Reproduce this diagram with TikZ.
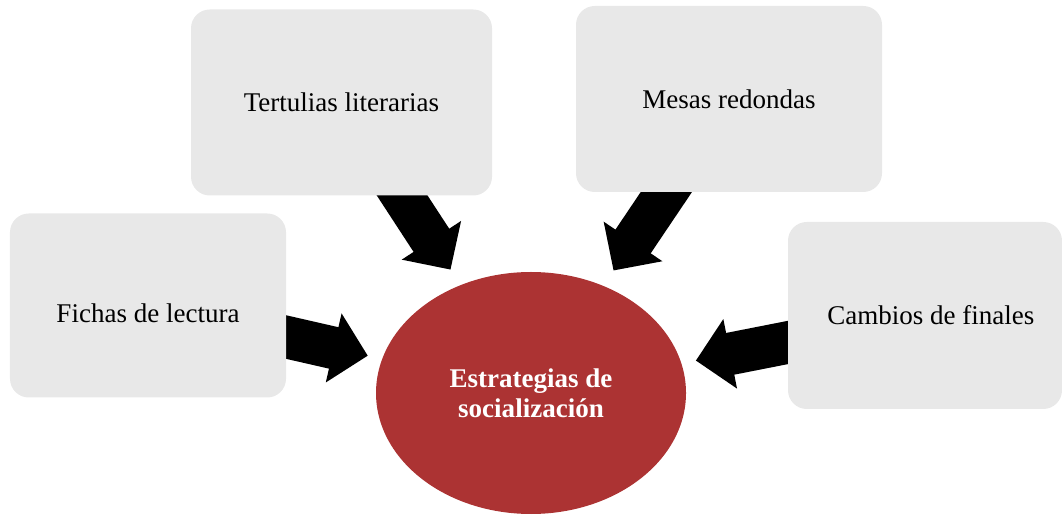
\documentclass[tikz,border=0pt]{standalone}
\usepackage{fontspec}
\setmainfont{Liberation Serif}
\usetikzlibrary{shapes.geometric,arrows.meta,backgrounds}
\definecolor{cajagris}{HTML}{E8E8E8}
\definecolor{rojo}{HTML}{AC3333}
\begin{document}
\begin{tikzpicture}[font=\fontsize{12.3}{13.6}\selectfont,
  caja/.style={fill=cajagris, rounded corners=0.3cm, inner sep=0pt},
  flecha/.style={line width=0.68cm, -{Triangle[width=1.1cm,length=0.56cm]}}]
  \useasboundingbox (0,0) rectangle (16.992,8.224);

  \node[caja, minimum width=4.816cm, minimum height=2.976cm] (tert) at (5.464,6.584) {Tertulias literarias};
  \node[caja, minimum width=4.896cm, minimum height=2.976cm] (mesas) at (11.664,6.64) {Mesas redondas};
  \node[caja, minimum width=4.416cm, minimum height=2.944cm] (fichas) at (2.368,3.336) {\raisebox{-0.128cm}[\height][\depth]{Fichas de lectura}};
  \node[caja, minimum width=4.384cm, minimum height=2.992cm] (cambios) at (14.8,3.176) {\hspace*{0.19cm}Cambios de finales};

  \node[ellipse, fill=rojo, text=white, align=center, inner sep=0pt,
        font=\fontsize{12.3}{13.6}\selectfont\bfseries,
        minimum width=4.96cm, minimum height=3.872cm] (est) at (8.496,1.936) {Estrategias de\\socialización};

  \begin{pgfonlayer}{background}
    \draw[flecha, shorten >=0.29cm] (tert.center) -- (est);
    \draw[flecha, shorten >=0.29cm] (mesas.center) -- (est);
    \draw[flecha, shorten >=0.23cm] (fichas.center) -- (est);
    \draw[flecha, shorten >=0.23cm] (cambios.center) -- (est);
  \end{pgfonlayer}
\end{tikzpicture}
\end{document}
